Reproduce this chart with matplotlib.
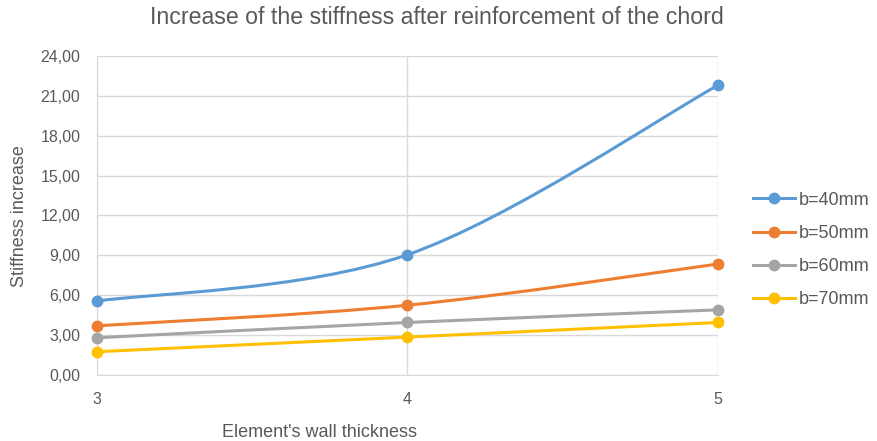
import matplotlib
matplotlib.use("Agg")
import matplotlib.pyplot as plt
from matplotlib.path import Path
from matplotlib.patches import PathPatch
from matplotlib.lines import Line2D
from matplotlib.ticker import FuncFormatter

plt.rcParams['font.family'] = ['Liberation Sans', 'DejaVu Sans']

# data
thickness = [3, 4, 5]
b40 = [5.56, 9.05, 21.8]
b50 = [3.7, 5.25, 8.35]
b60 = [2.8, 3.95, 4.9]
b70 = [1.75, 2.85, 3.95]
labels = ["b=40mm", "b=50mm", "b=60mm", "b=70mm"]
colors = ["#5b9bd5", "#ed7d31", "#a5a5a5", "#ffc000"]
text_col = "#595959"


def smooth_path(xs, ys):
    # Excel-like smoothed line: cubic Bezier segments with Catmull-Rom control points
    pts = list(zip(xs, ys))
    verts = [pts[0]]
    codes = [Path.MOVETO]
    n = len(pts)
    for i in range(n - 1):
        p0 = pts[max(i - 1, 0)]
        p1 = pts[i]
        p2 = pts[i + 1]
        p3 = pts[min(i + 2, n - 1)]
        c1 = (p1[0] + (p2[0] - p0[0]) / 6, p1[1] + (p2[1] - p0[1]) / 6)
        c2 = (p2[0] - (p3[0] - p1[0]) / 6, p2[1] - (p3[1] - p1[1]) / 6)
        verts += [c1, c2, p2]
        codes += [Path.CURVE4] * 3
    return Path(verts, codes)


fig = plt.figure(figsize=(8.77, 4.41), dpi=100)
ax = fig.add_axes([0.1106, 0.1497, 0.8187 - 0.1106, 0.873 - 0.1497])

handles = []
for ys, c, lab in zip([b40, b50, b60, b70], colors, labels):
    ax.add_patch(PathPatch(smooth_path(thickness, ys), facecolor="none",
                           edgecolor=c, lw=2.2, zorder=3, clip_on=False))
    ax.plot(thickness, ys, "o", color=c, ms=7.5, zorder=4, clip_on=False)
    handles.append(Line2D([], [], color=c, lw=2.2, marker="o", ms=7.5, label=lab))

ax.set_xlim(3, 5)
ax.set_ylim(0, 24)
ax.set_xticks(thickness)
ax.set_yticks(range(0, 25, 3))
ax.yaxis.set_major_formatter(FuncFormatter(lambda v, p: f"{v:.2f}".replace(".", ",")))
ax.grid(True, color="#d9d9d9", lw=1)
ax.set_axisbelow(True)
for s in ["top", "right"]:
    ax.spines[s].set_visible(False)
for s in ["left", "bottom"]:
    ax.spines[s].set_color("#d9d9d9")
ax.tick_params(length=0, colors=text_col, labelsize=11.5)
ax.tick_params(axis="y", pad=12)
ax.tick_params(axis="x", pad=12)

fig.text(0.364, 0.02, "Element's wall thickness", color=text_col, fontsize=13,
         ha="center", va="center")
fig.text(0.0217, 0.51, "Stiffness increase", color=text_col, fontsize=13,
         ha="center", va="center", rotation=90)
fig.text(0.498, 0.961, "Increase of the stiffness after reinforcement of the chord",
         color=text_col, fontsize=16.7, ha="center", va="center")

leg = fig.legend(handles=handles, loc="center left", bbox_to_anchor=(0.8586, 0.433),
                 frameon=False, fontsize=13, handlelength=2.3, labelspacing=0.9,
                 handletextpad=0.25, borderpad=0, borderaxespad=0)
for t in leg.get_texts():
    t.set_color(text_col)

plt.savefig("out.png", dpi=100)
